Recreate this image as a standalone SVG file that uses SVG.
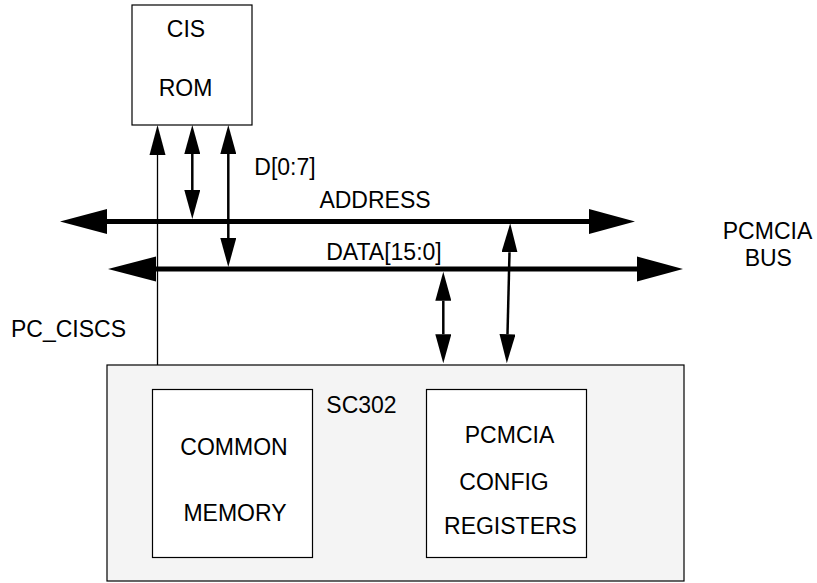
<svg xmlns="http://www.w3.org/2000/svg" width="817" height="583" viewBox="0 0 817 583">
<style>
text{font-family:"Liberation Sans",Arial,sans-serif;font-size:23px;fill:#000}
.box{fill:#fff;stroke:#000;stroke-width:1.2}
.chip{fill:#f4f4f4;stroke:#000;stroke-width:1.2}
.bus{stroke:#000;stroke-width:5;fill:none}
.v{stroke:#000;stroke-width:2.5;fill:none}
.thin{stroke:#000;stroke-width:1.3;fill:none}
.head{fill:#000;stroke:none}
</style>
<defs>
<marker id="ah" viewBox="0 0 29 16" refX="0" refY="8" markerWidth="29" markerHeight="16" markerUnits="userSpaceOnUse" orient="auto-start-reverse">
<path d="M0,0 L29,8 L0,16 z" fill="#000"/>
</marker>
</defs>
<g id="cis-rom">
<rect class="box" x="132" y="5" width="120" height="120"/>
<text x="186" y="37" text-anchor="middle">CIS</text>
<text x="185.5" y="95.5" text-anchor="middle">ROM</text>
</g>
<g id="sc302">
<rect class="chip" x="107" y="365" width="577" height="216"/>
<text x="361.5" y="413" text-anchor="middle">SC302</text>
</g>
<g id="common-memory">
<rect class="box" x="152.5" y="389.5" width="160" height="168"/>
<text x="234" y="455" text-anchor="middle">COMMON</text>
<text x="235" y="520.5" text-anchor="middle">MEMORY</text>
</g>
<g id="pcmcia-config">
<rect class="box" x="426.5" y="389.5" width="160" height="168"/>
<text x="509.5" y="443" text-anchor="middle">PCMCIA</text>
<text x="504" y="490" text-anchor="middle">CONFIG</text>
<text x="510.5" y="534" text-anchor="middle">REGISTERS</text>
</g>
<g id="labels">
<text x="375" y="207.5" text-anchor="middle">ADDRESS</text>
<text x="384" y="259.5" text-anchor="middle">DATA[15:0]</text>
<text x="285" y="175" text-anchor="middle">D[0:7]</text>
<text x="767.5" y="238.5" text-anchor="middle">PCMCIA</text>
<text x="768.3" y="266" text-anchor="middle">BUS</text>
<text x="11" y="337.3">PC_CISCS</text>
</g>
<g id="connectors">
<line class="bus" x1="106" y1="221.5" x2="590" y2="221.5"/>
<polygon class="head" points="60,221.5 107,209 107,234"/>
<polygon class="head" points="635,221.5 589,209 589,234"/>
<line class="bus" x1="155" y1="269" x2="638" y2="269"/>
<polygon class="head" points="108,269 156,256.5 156,281.5"/>
<polygon class="head" points="683,269 637,256.5 637,281.5"/>
<line class="thin" x1="157.5" y1="154" x2="157.5" y2="365"/>
<polygon class="head" points="157.5,125 149.5,155 165.5,155"/>
<line class="v" x1="192.3" y1="154" x2="192.3" y2="190" marker-start="url(#ah)" marker-end="url(#ah)"/>
<line class="v" x1="228.3" y1="154" x2="228.3" y2="238" marker-start="url(#ah)" marker-end="url(#ah)"/>
<line class="v" x1="443.3" y1="300.7" x2="443.3" y2="334.3" marker-start="url(#ah)" marker-end="url(#ah)"/>
<line class="v" x1="509.5" y1="252.3" x2="507.5" y2="334.3" marker-start="url(#ah)" marker-end="url(#ah)"/>
</g>
</svg>
